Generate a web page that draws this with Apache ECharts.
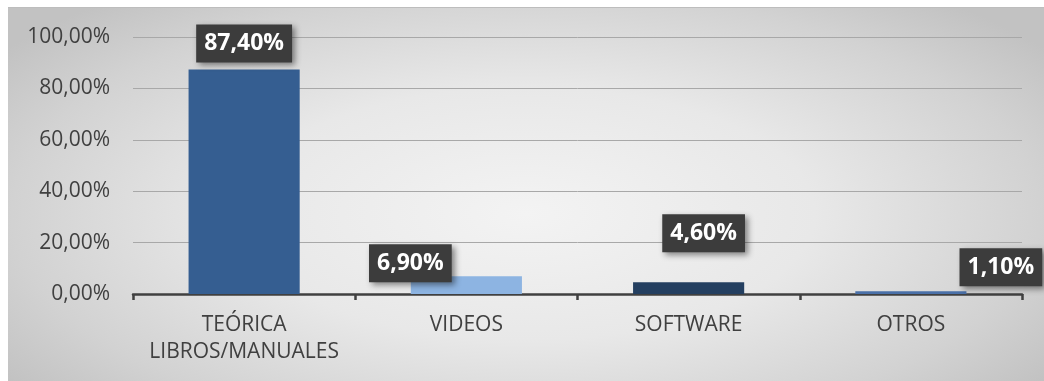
<!DOCTYPE html>
<html>
<head>
<meta charset="utf-8">
<script src="https://cdn.jsdelivr.net/npm/echarts@6/dist/echarts.min.js"></script>
<style>
  html, body { margin: 0; padding: 0; background: #ffffff; }
  #frame {
    position: absolute; left: 8px; top: 7px; width: 1036px; height: 374px;
    background: radial-gradient(ellipse 62% 75% at 50% 55%, #f3f3f3 0%, #e8e8e8 45%, #d2d2d2 80%, #c2c2c2 100%);
    border-top: 1px solid #bdbdbd;
  }
  #chart { position: absolute; left: 0; top: 0; width: 1044px; height: 381px; }
</style>
</head>
<body>
<div id="frame"></div>
<div id="chart"></div>
<script>
// Share of resource types (percent)
const categories = ['TEÓRICA\nLIBROS/MANUALES', 'VIDEOS', 'SOFTWARE', 'OTROS'];
const values = [87.4, 6.9, 4.6, 1.1];
const barColors = ['#355e91', '#8db4e2', '#243f60', '#4a70a8'];
const yTicks = [0, 20, 40, 60, 80, 100];

// Hand-placed data label boxes: [dx, dy] relative to the top of each bar
const labelOffsets = [[0, -7], [-56, 6], [15, -30], [90, -5]];

const fmtPct = v => v.toFixed(2).replace('.', ',') + '%';

const chart = echarts.init(document.getElementById('chart'), null, { renderer: 'canvas' });

const FONT = '"Open Sans", "Noto Sans", sans-serif';

chart.setOption({
  backgroundColor: 'transparent',
  animation: false,
  grid: { left: 133, right: 22, top: 37, bottom: 87, containLabel: false },
  xAxis: {
    type: 'category',
    data: categories,
    axisLine: { show: true, lineStyle: { color: '#404040', width: 2.5 } },
    axisTick: { show: true, alignWithLabel: false, length: 6, lineStyle: { color: '#404040', width: 2.5 } },
    axisLabel: {
      color: '#404040', fontFamily: FONT, fontSize: 21, margin: 18, lineHeight: 27,
      interval: 0
    }
  },
  yAxis: {
    type: 'value',
    min: yTicks[0],
    max: yTicks[yTicks.length - 1],
    interval: yTicks[1] - yTicks[0],
    axisLine: { show: false },
    axisTick: { show: false },
    splitLine: { lineStyle: { color: '#a8a8a8', width: 1 } },
    axisLabel: {
      color: '#404040', fontFamily: FONT, fontSize: 21, margin: 23,
      formatter: v => fmtPct(v)
    }
  },
  series: [{
    type: 'bar',
    barWidth: '50%',
    data: values.map((v, i) => ({
      value: v,
      itemStyle: { color: barColors[i] },
      label: { offset: [labelOffsets[i][0], labelOffsets[i][1]] }
    })),
    label: {
      show: true,
      position: 'top',
      distance: 0,
      formatter: p => fmtPct(p.value),
      color: '#ffffff',
      fontFamily: FONT,
      fontWeight: 'bold',
      fontSize: 23,
      backgroundColor: '#3c3c3c',
      padding: [8, 8, 7, 8],
      shadowColor: 'rgba(0,0,0,0.45)',
      shadowBlur: 6,
      shadowOffsetX: 3,
      shadowOffsetY: 3
    },
    z: 3
  }]
});
</script>
</body>
</html>
